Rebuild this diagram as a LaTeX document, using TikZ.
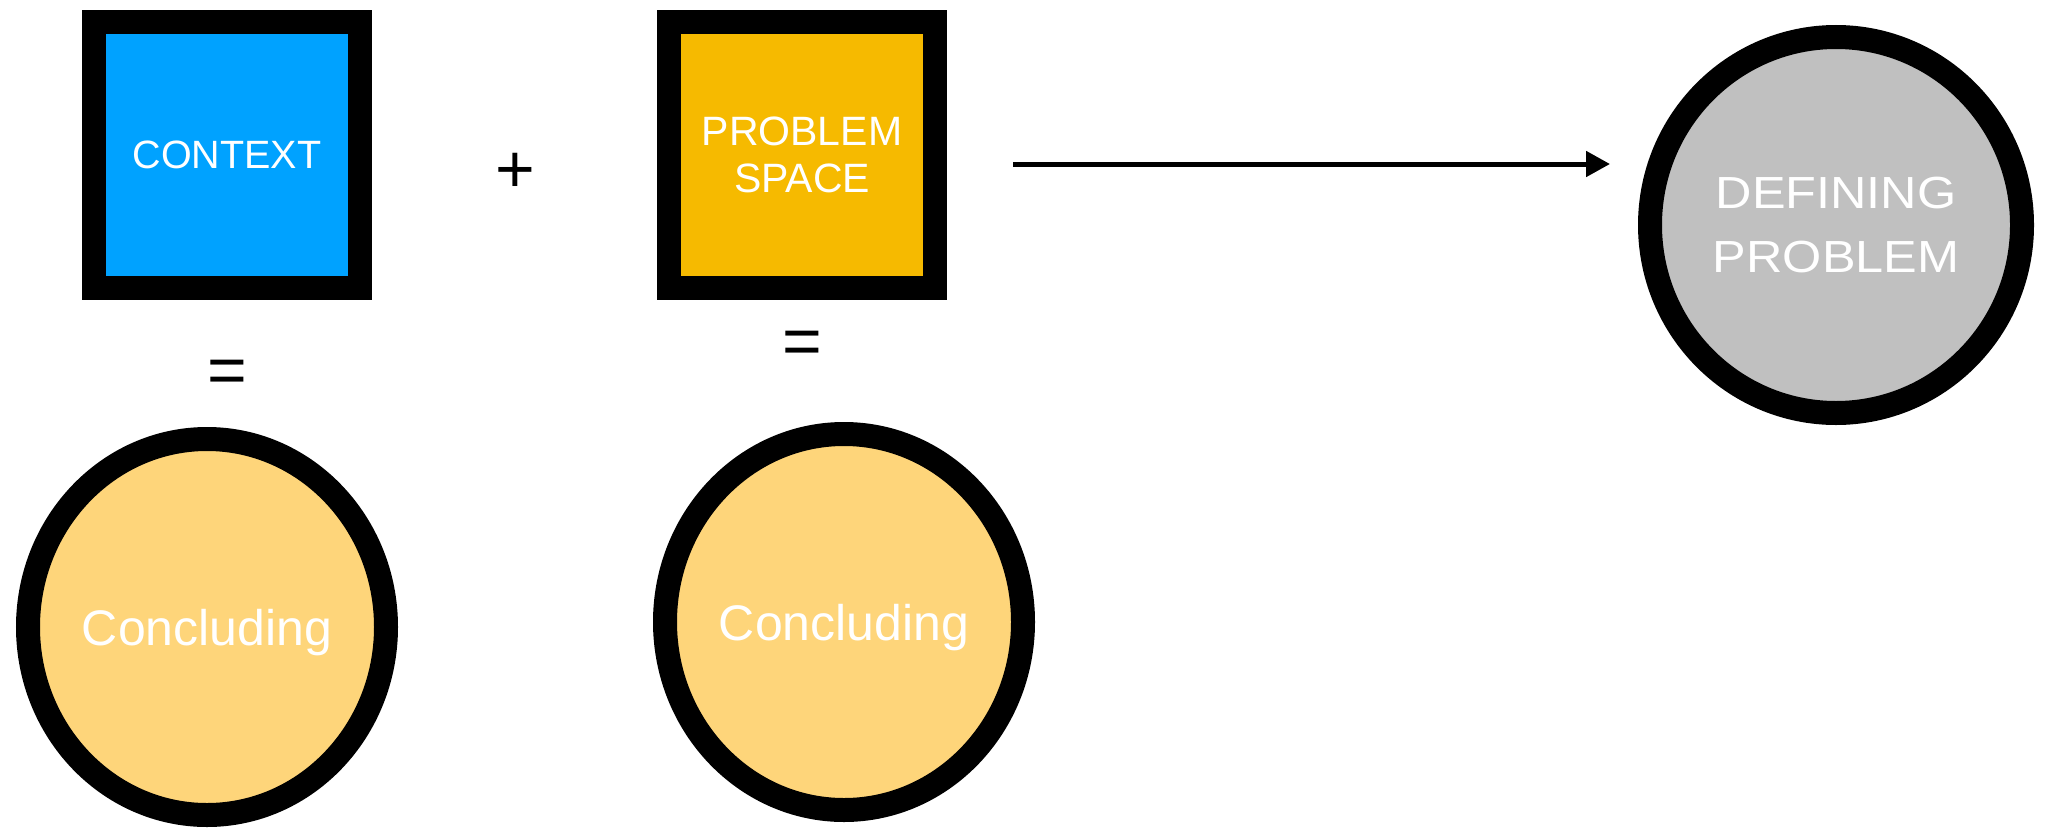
\documentclass[tikz,border=0pt]{standalone}
\usepackage{fontspec}
\setmainfont{Liberation Sans}
\newfontfamily\widesans[FakeStretch=1.12]{Liberation Sans}
\usetikzlibrary{arrows.meta, positioning, shapes.geometric}
\definecolor{ctxblue}{RGB}{0,162,255}
\definecolor{probyellow}{RGB}{246,186,0}
\definecolor{concyellow}{RGB}{254,213,122}
\definecolor{goalgray}{RGB}{192,192,192}

\begin{document}
\begin{tikzpicture}[
  x=1pt, y=-1pt,
  block/.style={rectangle, draw=black, line width=24pt, minimum width=266pt, minimum height=266pt, inner sep=0pt, align=center, text=white},
  result/.style={ellipse, draw=black, line width=24pt, minimum width=358pt, minimum height=376pt, inner sep=0pt, fill=concyellow, text=white, text depth=0pt, font=\fontsize{50}{60}\selectfont},
  goal/.style={ellipse, draw=black, line width=24pt, minimum width=372pt, minimum height=376pt, inner sep=0pt, fill=goalgray, text=white, align=center, font=\widesans\fontsize{45}{64}\selectfont},
  sign/.style={inner sep=0pt, font=\fontsize{68}{80}\selectfont},
  flow/.style={line width=5pt, -{Triangle[length=24pt, width=25pt]}}
]
\useasboundingbox (0,0) rectangle (2052,827);

% Top row - the two inputs
\node[block, fill=ctxblue, font=\fontsize{39.5}{46}\selectfont] (context) at (227,155) {CONTEXT};
\node[block, fill=probyellow, font=\fontsize{41}{47.6}\selectfont, right=285pt of context] (space) {PROBLEM\\SPACE};
\node[sign] (plus) at (515,173) {+};

% Bottom row - what each one gives
\node[sign, below=60pt of context] (eqctx) {=};
\node[sign, below=31pt of space] (eqspace) {=};
\node[result, below=127pt of context, xshift=-20pt] (concctx) {Concluding};
\node[result, below=122pt of space, xshift=42pt] (concspace) {Concluding};

% Right - the outcome
\node[goal] (defining) at (1836,225) {DEFINING\\PROBLEM};

% Flow to the outcome
\coordinate (flowend) at (defining.west |- space.east);
\draw[flow] ([xshift=66pt,yshift=-9pt]space.east) -- ([xshift=-28pt,yshift=-9pt]flowend);

\end{tikzpicture}
\end{document}
